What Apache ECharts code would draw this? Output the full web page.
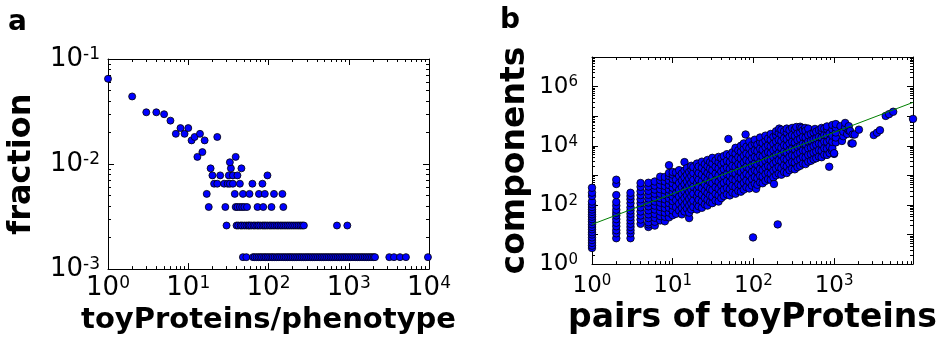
<!DOCTYPE html>
<html><head><meta charset="utf-8">
<script src="https://cdn.jsdelivr.net/npm/echarts@6/dist/echarts.min.js"></script>
<style>html,body{margin:0;padding:0;background:#fff}#c{width:943px;height:340px}</style>
</head><body><div id="c"></div>
<script>
// ---------- Panel a: fraction vs toyProteins/phenotype ----------
const aSinglesX = [1, 2, 3, 4, 5, 6, 7, 8, 9, 10, 11, 12, 13, 14, 15, 16, 23];
const aSinglesY = [0.0648, 0.044, 0.0311, 0.0311, 0.0298, 0.0259, 0.0194, 0.022, 0.0194, 0.022, 0.0168, 0.0181, 0.0117, 0.0194, 0.0130, 0.0168, 0.0181];
const aLevelY = [0.0013, 0.0026, 0.0039, 0.0052, 0.0065, 0.0078, 0.0091, 0.0104, 0.0117];
const aLevel1X = [48, 53, 64, 67, 71, 75, 79, 83, 88, 92, 97, 102, 108, 113, 119, 126, 132, 139, 147, 155, 163, 172, 181, 190, 200, 211, 222, 234, 246, 259, 273, 288, 303, 319, 336, 354, 372, 392, 413, 435, 458, 482, 508, 535, 563, 593, 624, 657, 692, 729, 767, 808, 851, 896, 943, 993, 1046, 1101, 1160, 1221, 1286, 1354, 1426, 1501, 1581, 1665, 1753, 1846, 1944, 2047, 2125, 3200, 3660, 4350, 5160, 9700];
const aLevel2X = [30, 40, 42, 45, 47, 50, 53, 56, 58, 61, 65, 68, 72, 75, 79, 84, 88, 92, 97, 103, 108, 114, 120, 127, 133, 141, 148, 156, 164, 173, 182, 192, 203, 214, 226, 238, 251, 264, 276, 713, 960];
const aLevel3X = [18, 29, 39, 41, 44, 47, 50, 54, 73, 86, 109, 153];
const aLevel4X = [17, 38, 48, 58, 76, 90, 117, 149];
const aLevel5X = [21, 23, 28, 31, 33, 36, 44, 63, 84];
const aLevel6X = [20, 25, 32, 36, 41, 97];
const aLevel7X = [19, 34, 46];
const aLevel8X = [33];
const aLevel9X = [39];

// ---------- Panel b: components vs pairs of toyProteins ----------
const bColX = [1, 2, 3, 4, 5, 6, 7, 8, 9, 10, 11, 12, 13, 14, 15, 16, 17, 18, 20, 21, 23, 25, 27, 29, 31, 34, 37, 40, 43, 47, 49, 51, 55, 60, 65, 70, 76, 80, 82, 89, 96, 99, 104, 108, 112, 121, 130, 141, 152, 164, 177, 180, 191, 200, 206, 209, 222, 240, 259, 280, 302, 326, 340, 352, 380, 395, 410, 437, 443, 478, 516, 557, 580, 601, 649, 700, 756, 816, 870, 881, 940, 951, 1000, 1050, 1200, 1250, 1300, 1370, 1450, 1520, 1580, 1640, 1700, 1800, 2030, 3100, 3400, 3700, 4360, 4800, 5400, 9500];
const bColY = [
  [3.5, 4.2, 5.2, 6.5, 8, 10, 12, 15, 18, 22, 27, 33, 40, 48, 58, 70, 85, 105, 130, 200, 260, 380],
  [7.5, 11, 14, 19, 25, 33, 44, 54, 69, 94, 126, 215, 510, 710],
  [7.5, 11, 14, 18, 23, 30, 39, 50, 65, 83, 115, 155, 200, 257],
  [23, 32, 44, 60, 83, 115, 155, 215, 290, 410, 550],
  [18, 22, 26, 36, 48, 66, 90, 120, 165, 220, 300, 420, 560],
  [20, 27, 37, 50, 70, 95, 130, 175, 240, 330, 450, 620],
  [30, 42, 60, 85, 120, 170, 240, 340, 480, 680, 900],
  [28, 40, 55, 78, 110, 155, 220, 310, 440, 620, 880],
  [38, 55, 80, 115, 165, 235, 330, 470, 670, 950, 1200, 2200],
  [45, 65, 95, 135, 190, 270, 380, 540, 760, 1050, 1300],
  [50, 85, 145, 250, 420, 720, 1250],
  [65, 110, 190, 320, 550, 950, 1500],
  [48, 80, 135, 230, 400, 680, 1150],
  [60, 100, 170, 290, 500, 850, 1450, 2800],
  [75, 125, 210, 360, 620, 1050, 1750],
  [36, 55, 95, 160, 270, 460, 780, 1300],
  [70, 115, 195, 330, 560, 950, 1600, 2100],
  [85, 140, 240, 410, 700, 1200, 1900],
  [70, 110, 190, 320, 540, 900, 1500, 2500],
  [90, 150, 250, 420, 720, 1200, 2000],
  [80, 130, 220, 370, 630, 1050, 1800, 2900],
  [105, 175, 300, 500, 850, 1450, 2400],
  [95, 150, 250, 420, 700, 1200, 2000, 3300],
  [125, 210, 350, 600, 1000, 1700, 2800],
  [115, 190, 320, 540, 900, 1500, 2500, 3900],
  [140, 240, 400, 680, 1150, 1950, 3200],
  [130, 210, 350, 600, 1000, 1700, 2800, 4200],
  [170, 280, 470, 800, 1350, 2300, 3800],
  [200, 330, 560, 950, 1600, 2700, 4500],
  [230, 380, 650, 1100, 1850, 3100, 5200],
  [17000],
  [210, 340, 580, 980, 1650, 2800, 4700],
  [260, 440, 750, 1250, 2100, 3600, 6000],
  [240, 400, 680, 1150, 1950, 3300, 5500, 8500],
  [300, 500, 850, 1450, 2450, 4100, 7000],
  [280, 460, 780, 1300, 2200, 3700, 6300, 10000],
  [330, 560, 950, 1600, 2700, 4600, 7800, 12000],
  [24000],
  [400, 680, 1150, 1950, 3300, 5500, 9300],
  [360, 600, 1000, 1700, 2900, 4900, 8300, 14000],
  [450, 760, 1300, 2200, 3700, 6200, 10500],
  [8],
  [520, 880, 1500, 2500, 4200, 7100, 12000, 16000],
  [350],
  [480, 800, 1350, 2300, 3900, 6600, 11000],
  [580, 980, 1650, 2800, 4700, 8000, 13500, 19000],
  [540, 900, 1500, 2550, 4300, 7300, 12300],
  [650, 1100, 1850, 3100, 5300, 9000, 15000, 22000],
  [750, 1250, 2100, 3600, 6100, 10300, 17500],
  [700, 1150, 1950, 3300, 5600, 9500, 16000, 25000],
  [850, 1450, 2450, 4100, 7000, 11800, 20000],
  [510],
  [1000, 1700, 2900, 4900, 8300, 14000, 23000, 31000],
  [22],
  [1150, 1950, 3300, 5600, 9500, 16000, 27000],
  [38000],
  [1050, 1750, 3000, 5000, 8500, 14500, 24000, 35000],
  [1300, 2200, 3700, 6300, 10500, 18000, 31000],
  [1200, 2000, 3400, 5800, 9800, 16500, 28000, 38000],
  [1500, 2500, 4200, 7100, 12000, 20000, 34000],
  [1700, 2850, 4800, 8100, 13700, 23000, 40000],
  [1600, 2700, 4500, 7600, 12800, 21500, 36000],
  [43000],
  [1900, 3200, 5400, 9100, 15500, 26000],
  [2100, 3500, 5900, 10000, 17000, 28500, 44000],
  [40000],
  [2500, 4200, 7000, 11800, 20000, 33000],
  [40000],
  [2400, 4000, 6700, 11300, 19000, 32000],
  [2900, 4900, 8200, 13800, 23000, 38000],
  [3100, 5200, 8700, 14700, 25000],
  [3500, 5800, 9800, 16500, 28000],
  [37000],
  [3800, 6400, 10800, 18000, 30000],
  [4300, 7200, 12000, 20000, 34000],
  [4100, 6800, 11500, 19000, 32000, 40000],
  [5000, 8300, 14000, 23000, 38000],
  [4900, 8000, 13500, 22500, 37000, 45000],
  [1950],
  [5600, 9300, 15500, 26000],
  [6900],
  [8200, 13500, 22000, 36000, 50000],
  [5300, 5600],
  [13000, 19000, 28000, 41000, 54000],
  [46000],
  [14500],
  [21000, 30000],
  [42000, 59000],
  [25000],
  [33000, 46000],
  [31600],
  [12000],
  [12000, 24000],
  [24000],
  [35000],
  [23000],
  [27500],
  [33500],
  [102000],
  [117000],
  [141000],
  [81000]
];
const bFitX = [1, 9500];
const bFitY = [22, 292000];

// ---------- Axis ticks / labels ----------
const aXMajor = [1, 10, 100, 1000, 10000];
const aYMajor = [0.001, 0.01, 0.1];
const bXMajor = [1, 10, 100, 1000];
const bYMajor = [1, 10, 100, 1000, 10000, 100000, 1000000, 10000000];
const bYLabels = [1, 100, 10000, 1000000];
const minorMult = [2, 3, 4, 5, 6, 7, 8, 9];
function minorsFrom(decades) {
  const out = [];
  decades.forEach(d => minorMult.forEach(m => out.push(+(m * d).toPrecision(6))));
  return out;
}
const aXMinor = minorsFrom([1, 10, 100, 1000]);
const aYMinor = minorsFrom([0.001, 0.01]);
const bXMinor = minorsFrom([1, 10, 100, 1000]);
const bYMinor = minorsFrom([1, 10, 100, 1000, 10000, 100000, 1000000]);

// ---------- build data ----------
const aPoints = aSinglesX.map((x, i) => [x, aSinglesY[i]]);
[aLevel1X, aLevel2X, aLevel3X, aLevel4X, aLevel5X, aLevel6X, aLevel7X, aLevel8X, aLevel9X].forEach((xs, li) => {
  xs.forEach(x => aPoints.push([x, aLevelY[li]]));
});
const bPoints = [];
bColX.forEach((x, i) => bColY[i].forEach(y => bPoints.push([x, y])));
const bFit = bFitX.map((x, i) => [x, bFitY[i]]);

const FONT = 'DejaVu Sans';
function supFormatter(v) {
  const e = Math.round(Math.log10(v));
  return '{n|10}{s|' + e + '}';
}
function labelOpt(size, sup, margin, values) {
  return {
    show: true, margin: margin, customValues: values, formatter: supFormatter,
    rich: {
      n: { fontSize: size, fontFamily: FONT, color: '#000', lineHeight: size },
      s: { fontSize: sup, fontFamily: FONT, color: '#000', lineHeight: sup, verticalAlign: 'top' }
    }
  };
}
function makeAxes(dim, gridIndex, min, max, majors, minors, lblOpt, nameOpt) {
  const pos = dim === 'x' ? ['bottom', 'top'] : ['left', 'right'];
  const axes = [];
  pos.forEach((p, i) => {
    const base = { type: 'log', logBase: 10, gridIndex: gridIndex, min: min, max: max, position: p,
      splitLine: { show: false }, minorTick: { show: false }, minorSplitLine: { show: false } };
    axes.push(Object.assign({}, base, {
      axisLine: { show: true, onZero: false, lineStyle: { color: '#000', width: 1 } },
      axisTick: { show: true, inside: true, length: 6, customValues: majors, lineStyle: { color: '#000', width: 1 } },
      axisLabel: i === 0 ? lblOpt : { show: false }
    }, i === 0 ? nameOpt : {}));
    axes.push(Object.assign({}, base, {
      axisLine: { show: false },
      axisTick: { show: true, inside: true, length: 3, customValues: minors, lineStyle: { color: '#000', width: 1 } },
      axisLabel: { show: false }
    }));
  });
  return axes;
}
function nameOpt(text, gap, size, rotate) {
  const o = { name: text, nameLocation: 'middle', nameGap: gap,
    nameTextStyle: { fontSize: size, fontWeight: 'bold', fontFamily: FONT, color: '#000', verticalAlign: 'middle' } };
  if (rotate) o.nameRotate = 90;
  return o;
}

const xAxes = [].concat(
  makeAxes('x', 0, 1, 10000, aXMajor, aXMinor, labelOpt(26, 17, 6, aXMajor), nameOpt('toyProteins/phenotype', 47, 29)),
  makeAxes('x', 1, 1, 9500, bXMajor, bXMinor, labelOpt(23, 15, 10, bXMajor), nameOpt('pairs of toyProteins', 52, 33))
);
const yAxes = [].concat(
  makeAxes('y', 0, 0.001, 0.1, aYMajor, aYMinor, labelOpt(26, 17, 8, aYMajor), nameOpt('fraction', 86, 32, true)),
  makeAxes('y', 1, 1, 10000000, bYMajor, bYMinor, labelOpt(23, 15, 14, bYLabels), nameOpt('components', 77, 33, true))
);

const chart = echarts.init(document.getElementById('c'), null, { renderer: 'canvas' });
chart.setOption({
  animation: false,
  backgroundColor: '#fff',
  grid: [
    { left: 108, top: 59, width: 321, height: 214, containLabel: false },
    { left: 592, top: 57, width: 321, height: 213, containLabel: false }
  ],
  xAxis: xAxes,
  yAxis: yAxes,
  graphic: [
    { type: 'text', left: 8, top: 9, style: { text: 'a', font: 'bold 28px "DejaVu Sans"', fill: '#000' } },
    { type: 'text', left: 500, top: 7, style: { text: 'b', font: 'bold 28px "DejaVu Sans"', fill: '#000' } }
  ],
  series: [
    { type: 'scatter', xAxisIndex: 0, yAxisIndex: 0, data: aPoints, symbolSize: 7, clip: true,
      itemStyle: { color: '#0000ff', borderColor: '#000', borderWidth: 0.8, opacity: 1 } },
    { type: 'scatter', xAxisIndex: 4, yAxisIndex: 4, data: bPoints, symbolSize: 7.5, clip: true,
      itemStyle: { color: '#0000ff', borderColor: '#000', borderWidth: 0.8, opacity: 1 } },
    { type: 'line', xAxisIndex: 4, yAxisIndex: 4, data: bFit, symbol: 'none', clip: true, z: 5,
      lineStyle: { color: '#008000', width: 1 } }
  ]
});
</script></body></html>
